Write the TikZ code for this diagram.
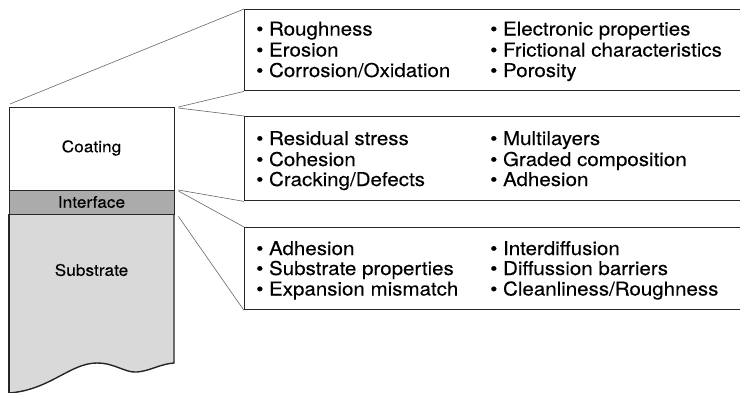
\documentclass[tikz,border=0pt]{standalone}
\usepackage{fontspec}
\setmainfont{TeX Gyre Heros}
\newfontfamily\wideheros[FakeStretch=1.08,FakeBold=0.12]{TeX Gyre Heros}
\tikzset{
  layerline/.style={draw=black!85, line width=1.4pt},
  listbox/.style={draw=black!85, line width=1.4pt, fill=white, minimum width=520pt, anchor=north west, inner sep=0pt},
  listtext/.style={anchor=base west, inner sep=0pt, font=\wideheros\fontsize{19}{21}\selectfont, text=black},
  layerlabel/.style={inner sep=0pt, font=\wideheros\fontsize{16}{18}\selectfont, text=black},
  zoomline/.style={draw=black!60, line width=0.6pt},
}
\begin{document}
\begin{tikzpicture}[x=1pt,y=-1pt]
\useasboundingbox (0,0) rectangle (740,392);
\clip (0,0) rectangle (740,392);
% layers
\fill[black!15] (9,214) -- (174,214) -- (174,363)
  .. controls (160,364) and (150,371) .. (137,372)
  .. controls (125,373) and (115,363) .. (97,363)
  .. controls (70,363) and (50,390) .. (9,393) -- cycle;
\node[layerline, fill=white, minimum width=165pt, minimum height=83pt, anchor=north west, inner sep=0pt] (coat) at (9,107) {};
\node[layerline, fill=black!33, minimum width=165pt, minimum height=24pt, anchor=north west, inner sep=0pt] (intf) at (9,190) {};
\draw[layerline] (9,214) -- (9,395);
\draw[layerline] (174,214) -- (174,363)
  .. controls (160,364) and (150,371) .. (137,372)
  .. controls (125,373) and (115,363) .. (97,363)
  .. controls (70,363) and (50,390) .. (9,393);
\node[layerlabel] (coatlab) at (91.5,148) {Coating};
\node[layerlabel] (intflab) at (91.5,202) {Interface};
\node[layerlabel] (sublab) at (91.5,270) {Substrate};
% boxes
\node[listbox, minimum height=81pt] (b1) at (244,9) {};
\node[listbox, minimum height=84pt] (b2) at (244,116) {};
\node[listbox, minimum height=82pt] (b3) at (244,227) {};
% connectors
\draw[zoomline] (coat.north west) ++(1,-3) -- (b1.north west);
\draw[zoomline] (coat.north east) ++(3,0) -- (b1.south west);
\draw[zoomline] (coat.north east) ++(3,1) -- (b2.north west);
\draw[zoomline] (intf.north east) ++(3,0) -- (b2.south west);
\draw[zoomline] (intf.north east) ++(3,1) -- (b3.north west);
\draw[zoomline] (intf.south east) ++(3,1) -- (b3.south west);
% texts box 1
\node[listtext] (t11) at (256,35.5) {• Roughness};
\node[listtext] (t12) at (256,56.5) {• Erosion};
\node[listtext] (t13) at (256,77) {• Corrosion/Oxidation};
\node[listtext] (t14) at (490,35.5) {• Electronic properties};
\node[listtext] (t15) at (490,56.5) {• Frictional characteristics};
\node[listtext] (t16) at (490,77) {• Porosity};
% texts box 2
\node[listtext] (t21) at (256,145) {• Residual stress};
\node[listtext] (t22) at (256,166) {• Cohesion};
\node[listtext] (t23) at (256,186) {• Cracking/Defects};
\node[listtext] (t24) at (490,145) {• Multilayers};
\node[listtext] (t25) at (490,166) {• Graded composition};
\node[listtext] (t26) at (490,186) {• Adhesion};
% texts box 3
\node[listtext] (t31) at (256,255) {• Adhesion};
\node[listtext] (t32) at (256,275) {• Substrate properties};
\node[listtext] (t33) at (256,295.5) {• Expansion mismatch};
\node[listtext] (t34) at (490,255) {• Interdiffusion};
\node[listtext] (t35) at (490,275) {• Diffussion barriers};
\node[listtext] (t36) at (490,295.5) {• Cleanliness/Roughness};
\end{tikzpicture}
\end{document}
